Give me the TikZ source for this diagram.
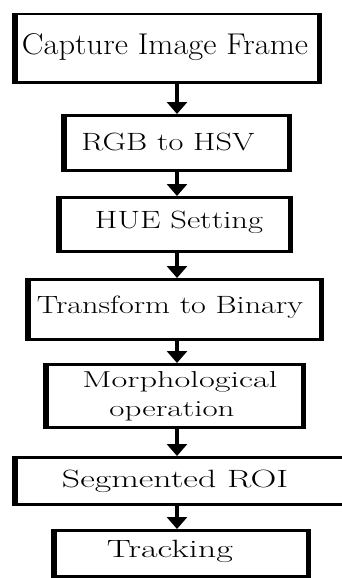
\documentclass[tikz,border=0pt]{standalone}
\usepackage{fontspec}
\usetikzlibrary{arrows.meta}
\tikzset{
  stage/.style={draw=black, line width=2.5pt, inner sep=0pt, anchor=north west},
  side/.style={line width=5.5pt, line cap=butt},
  caption/.style={anchor=base, inner sep=0pt, font=\fontsize{25}{27}\selectfont},
  bigcaption/.style={caption, font=\fontsize{30}{32}\selectfont},
  smallcaption/.style={caption, font=\fontsize{23}{25}\selectfont},
  flow/.style={line width=4pt, -{Triangle[width=20pt,length=12pt]}},
}
% stretch a label horizontally to a given width, keeping its height
\newcommand{\wlabel}[2]{\resizebox{#1pt}{\height}{#2}}
\begin{document}
\begin{tikzpicture}[x=1pt, y=-1pt]
  \fill[white] (0,0) rectangle (342,578);
  \useasboundingbox (0,0) rectangle (342,578);

  % process boxes (top-left corner, size)
  \node[stage, minimum width=302pt, minimum height=68pt] (b1) at (15,13) {};
  \node[stage, minimum width=223pt, minimum height=55pt] (b2) at (64,114) {};
  \node[stage, minimum width=229pt, minimum height=54pt] (b3) at (59,196) {};
  \node[stage, minimum width=291pt, minimum height=60pt] (b4) at (28,278) {};
  \node[stage, minimum width=255pt, minimum height=63pt] (b5) at (46,363) {};
  \node[stage, minimum width=330pt, minimum height=47pt] (b6) at (15,456) {};
  \node[stage, minimum width=252pt, minimum height=46pt] (b7) at (54,529) {};

  % heavy vertical sides of every box
  \foreach \b in {b1,b2,b3,b4,b5,b6,b7}{
    \draw[side] (\b.north west) -- (\b.south west);
    \draw[side] (\b.north east) -- (\b.south east);
  }

  % box labels
  \node[bigcaption] (t1)  at (165,55)  {\wlabel{286}{Capture Image Frame}};
  \node[caption] (t2)  at (168,150) {\wlabel{173}{RGB to HSV}};
  \node[caption] (t3)  at (179,228) {\wlabel{168}{HUE Setting}};
  \node[caption] (t4)  at (170,313) {\wlabel{266}{Transform to Binary}};
  \node[smallcaption] (t5a) at (180,387) {\wlabel{195}{Morphological}};
  \node[smallcaption] (t5b) at (172,416) {\wlabel{125}{operation}};
  \node[caption] (t6)  at (175,487) {\wlabel{226}{Segmented ROI}};
  \node[caption] (t7)  at (170,557) {\wlabel{126}{Tracking}};

  % flow arrows
  \coordinate (ax) at (177,0);
  \draw[flow] (b1.south -| ax) -- (b2.north -| ax);
  \draw[flow] (b2.south -| ax) -- (b3.north -| ax);
  \draw[flow] (b3.south -| ax) -- (b4.north -| ax);
  \draw[flow] (b4.south -| ax) -- (b5.north -| ax);
  \draw[flow] (b5.south -| ax) -- (b6.north -| ax);
  \draw[flow] (b6.south -| ax) -- (b7.north -| ax);
\end{tikzpicture}
\end{document}
